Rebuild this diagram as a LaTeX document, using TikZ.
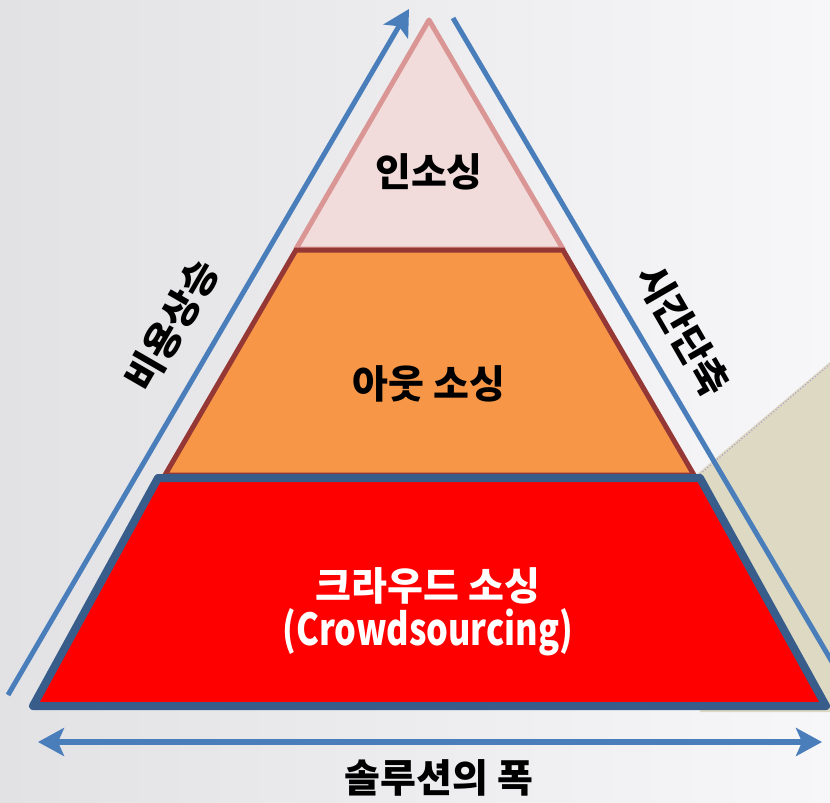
\documentclass[tikz,border=0pt]{standalone}
\usepackage{fontspec}
\setmainfont{Noto Sans CJK KR}
\usetikzlibrary{arrows.meta}
\definecolor{bgL}{RGB}{226,226,229}
\definecolor{bgR}{RGB}{247,246,249}
\definecolor{beige}{RGB}{221,217,195}
\definecolor{lav}{RGB}{179,162,199}
\definecolor{pinkF}{RGB}{242,220,219}
\definecolor{pinkB}{RGB}{217,150,148}
\definecolor{orF}{RGB}{247,150,70}
\definecolor{orB}{RGB}{149,55,53}
\definecolor{redF}{RGB}{255,0,0}
\definecolor{navB}{RGB}{56,93,138}
\definecolor{blueA}{RGB}{74,126,187}
\tikzset{
  lbl/.style={font=\fontsize{39}{42}\selectfont\bfseries, inner sep=0pt},
  arrline/.style={draw=blueA, line width=5pt},
  mytip/.tip={Stealth[length=26pt, width=28pt, inset=6pt]},
}
\begin{document}
\begin{tikzpicture}[x=1pt,y=-1pt]
\useasboundingbox (0,0) rectangle (830,803);
\clip (0,0) rectangle (830,803);
\shade[left color=bgL, right color=bgR] (0,0) rectangle (830,803);
% beige panel
\fill[beige] (690,480) -- (830,362) -- (830,712) -- (700,712) -- cycle;
\draw[lav, dotted, line width=1.2pt] (700,474) -- (830,364);
% pyramid
\filldraw[fill=pinkF, draw=pinkB, line width=5pt, line join=round] (429,20) -- (563,249) -- (296,249) -- cycle;
\filldraw[fill=orF, draw=orB, line width=5pt] (296,250) -- (563,250) -- (694,475) -- (165,475) -- cycle;
\filldraw[fill=redF, draw=navB, line width=8pt, line join=round] (158,478) -- (700,478) -- (826,706) -- (33,706) -- cycle;
% arrows
\coordinate (la) at (8,695);
\coordinate (lb) at (409,9);
\coordinate (ra) at (453,18);
\coordinate (rb) at (838,672);
\coordinate (ba) at (38,742);
\coordinate (bb) at (822,742);
\draw[arrline, -{mytip}] (la) -- (lb);
\draw[arrline] (ra) -- (rb);
\draw[arrline, line width=6pt, {mytip}-{mytip}] (ba) -- (bb);
% labels
\node[lbl] (inso) at (429,172) {인소싱};
\node[lbl] (outso) at (429,384) {아웃 소싱};
\node[lbl, text=white] (crowd) at (428,586) {크라우드 소싱};
\node[lbl, text=white, font=\fontsize{44}{46}\selectfont\bfseries] (crowden) at (428,632) {\scalebox{0.78}[1]{(Crowdsourcing)}};
\node[lbl] (sol) at (439,778) {솔루션의 폭};
\node[lbl, rotate=60] (cost) at (172,325) {비용상승};
\node[lbl, rotate=-60] (time) at (683,330) {시간단축};
\end{tikzpicture}
\end{document}
